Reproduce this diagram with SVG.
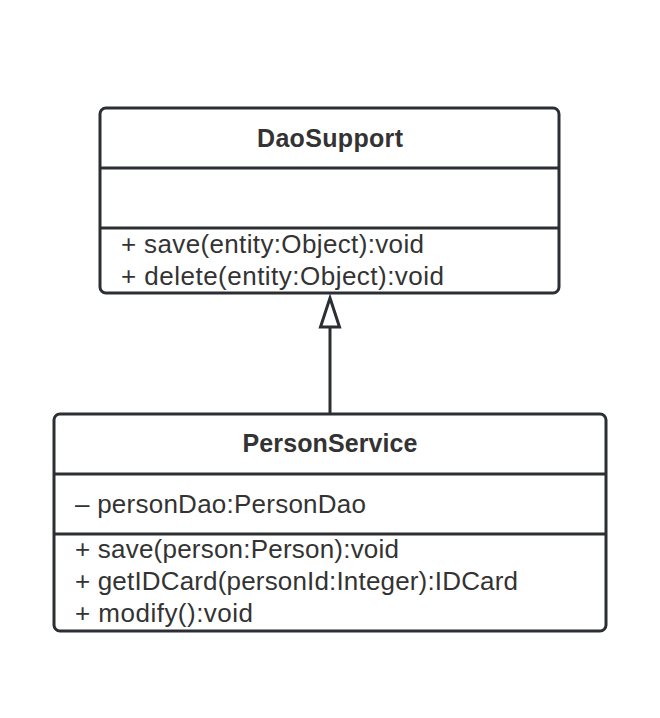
<svg xmlns="http://www.w3.org/2000/svg" width="660" height="718" viewBox="0 0 660 718">
<style>
.box{fill:#fff;stroke:#2b2e33;stroke-width:3}
.div{stroke:#2b2e33;stroke-width:3}
.title{font-family:"Liberation Sans",Arial,sans-serif;font-weight:bold;font-size:25px;fill:#333;text-anchor:middle}
.mem{font-family:"Liberation Sans",Arial,sans-serif;font-size:26px;fill:#333}
.conn{stroke:#2b2e33;stroke-width:3;fill:none}
.head{fill:#fff;stroke:#2b2e33;stroke-width:3;stroke-linejoin:miter}
</style>
<rect width="660" height="718" fill="#fff"/>
<g id="connectors">
<line class="conn" x1="330" y1="414" x2="330" y2="327"/>
<polygon class="head" points="330,298 339.5,327 320.5,327"/>
</g>
<g id="DaoSupport">
<rect class="box" x="100" y="108" width="459" height="185" rx="6"/>
<line class="div" x1="100" y1="168" x2="559" y2="168"/>
<line class="div" x1="100" y1="228" x2="559" y2="228"/>
<text class="title" x="330" y="147" textLength="146">DaoSupport</text>
<text class="mem" x="121" y="253" textLength="303">+ save(entity:Object):void</text>
<text class="mem" x="121" y="285" textLength="323">+ delete(entity:Object):void</text>
</g>
<g id="PersonService">
<rect class="box" x="54" y="414" width="552" height="217" rx="6"/>
<line class="div" x1="54" y1="474" x2="606" y2="474"/>
<line class="div" x1="54" y1="534" x2="606" y2="534"/>
<text class="title" x="330" y="452" textLength="175">PersonService</text>
<text class="mem" x="75" y="513" textLength="291">– personDao:PersonDao</text>
<text class="mem" x="75" y="558" textLength="324">+ save(person:Person):void</text>
<text class="mem" x="75" y="590" textLength="443">+ getIDCard(personId:Integer):IDCard</text>
<text class="mem" x="75" y="622" textLength="178">+ modify():void</text>
</g>
</svg>
